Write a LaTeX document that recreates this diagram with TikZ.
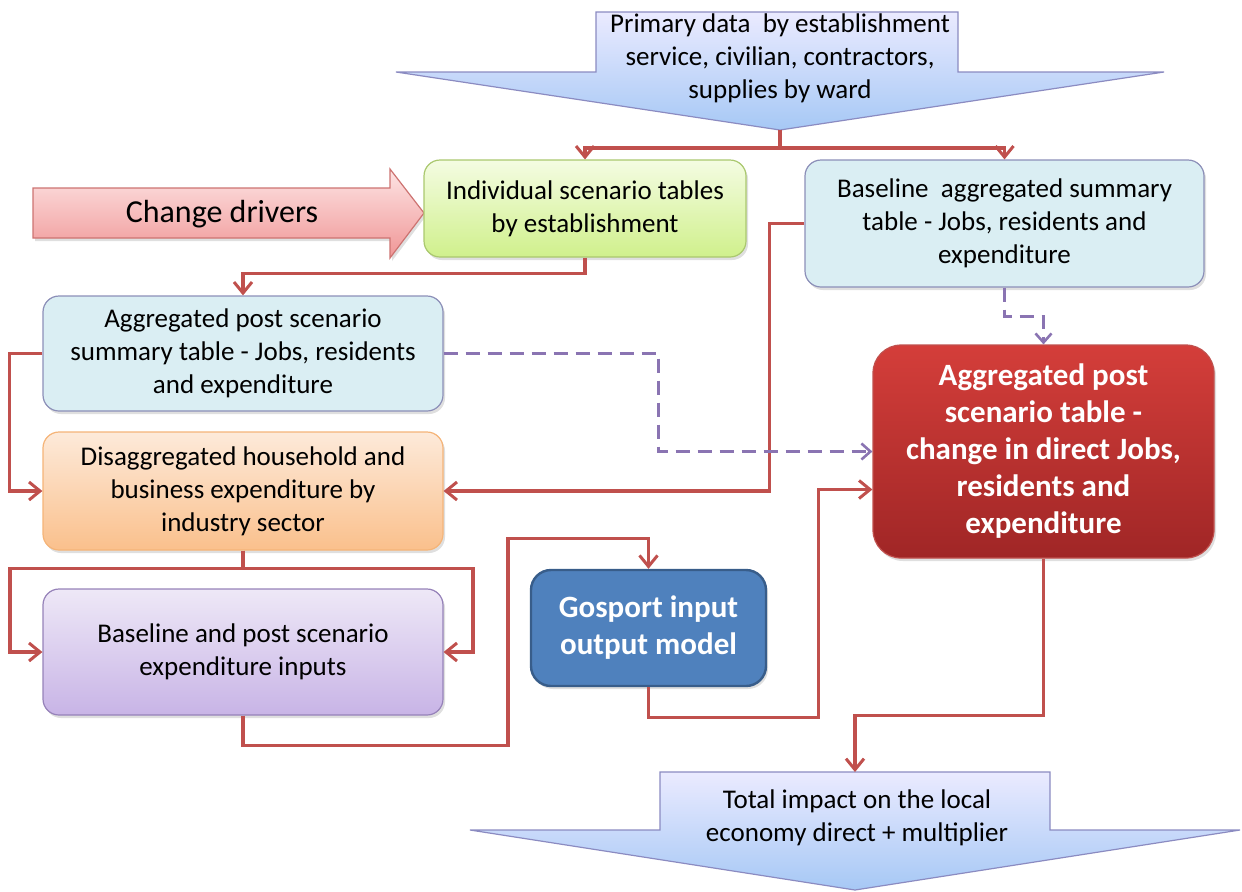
\documentclass[tikz,border=0pt]{standalone}
\usepackage{fontspec}
\setmainfont{Carlito}
\usetikzlibrary{arrows.meta,shadows}
\definecolor{lred}{HTML}{C0504D}
\definecolor{dpurple}{HTML}{8A74B2}
\definecolor{bluebox}{HTML}{DAEEF3}
\definecolor{blueborder}{HTML}{8C8FB8}
\begin{document}
\begin{tikzpicture}[x=0.5pt,y=-0.5pt,
  box/.style={draw=blueborder, line width=0.6pt, rounded corners=8pt, inner sep=0pt, align=center,
    font=\fontsize{13.5}{16.5}\selectfont,
    drop shadow={opacity=0.25, shadow xshift=1pt, shadow yshift=-1.5pt}},
  bluebx/.style={box, fill=bluebox},
  redline/.style={draw=lred, line width=1.7pt},
  conn/.style={redline, -{Straight Barb[length=5.5pt,width=9pt,line width=1.5pt]}},
  dconn/.style={draw=dpurple, line width=1.5pt, dash pattern=on 7pt off 4pt, -{Straight Barb[length=4.5pt,width=8pt,line width=1.3pt]}},
  bigarrow/.style={draw=blue!30!gray!70, line width=0.6pt, top color=blue!8!white, bottom color={rgb,255:red,166;green,200;blue,245}},
  txt/.style={align=center, font=\fontsize{13.5}{16.5}\selectfont, inner sep=0pt}
]
\useasboundingbox (0,0) rectangle (1242,891);

% top big arrow
\path[bigarrow] (596,12) -- (958,12) -- (958,72) -- (1164,72) -- (780,130) -- (396,72) -- (596,72) -- cycle;
\coordinate (ptip) at (780,130);
\node[txt] (primary) at (780,58) {Primary data\ \ by establishment\\service, civilian, contractors,\\supplies by ward};

% change drivers arrow
\path[draw=lred!80, line width=0.6pt, top color={rgb,255:red,253;green,228;blue,228}, bottom color={rgb,255:red,240;green,150;blue,150},
  drop shadow={opacity=0.25, shadow xshift=1pt, shadow yshift=-1.5pt}]
  (33,188) -- (390,188) -- (390,169) -- (424,213) -- (390,258) -- (390,238) -- (33,238) -- cycle;
\node[txt, font=\fontsize{16}{20}\selectfont] (cd) at (222,214) {Change drivers};

% boxes
\node[box, draw={rgb,255:red,170;green,200;blue,110}, top color={rgb,255:red,244;green,252;blue,226}, bottom color={rgb,255:red,208;green,240;blue,140},
  minimum width=161pt, minimum height=48.5pt] (ind) at (585,208.5) {Individual scenario tables\\by establishment};
\node[bluebx, minimum width=199.5pt, minimum height=63.5pt] (base) at (1004.5,223.5) {Baseline\ \ aggregated summary\\table - Jobs, residents and\\expenditure};
\node[bluebx, minimum width=200pt, minimum height=57.5pt] (aps) at (243,353.5) {Aggregated post scenario\\summary table - Jobs, residents\\and expenditure};
\node[box, draw={rgb,255:red,245;green,180;blue,120}, top color={rgb,255:red,253;green,234;blue,218}, bottom color={rgb,255:red,250;green,192;blue,140},
  minimum width=200pt, minimum height=59pt] (dis) at (243,491) {Disaggregated household and\\business expenditure by\\industry sector};
\node[box, draw={rgb,255:red,150;green,130;blue,185}, top color={rgb,255:red,238;green,232;blue,247}, bottom color={rgb,255:red,200;green,180;blue,230},
  minimum width=200pt, minimum height=63pt] (bpe) at (243,652) {Baseline and post scenario\\expenditure inputs};
\node[box, draw={rgb,255:red,56;green,93;blue,138}, line width=1.2pt, fill={rgb,255:red,79;green,129;blue,189}, rounded corners=10pt,
  text=white, font=\fontsize{15.5}{18.5}\selectfont\bfseries, minimum width=117.5pt, minimum height=58pt] (gos) at (648.5,628) {Gosport input\\output model};
\node[box, draw=lred, rounded corners=14pt, top color={rgb,255:red,212;green,62;blue,58}, bottom color={rgb,255:red,160;green,38;blue,38},
  text=white, font=\fontsize{15.5}{18.5}\selectfont\bfseries, minimum width=170.5pt, minimum height=106.5pt] (red) at (1043.5,451.5) {Aggregated post\\scenario table -\\change in direct Jobs,\\residents and\\expenditure};

% bottom big arrow
\path[bigarrow] (660,772) -- (1050,772) -- (1050,830) -- (1240,830) -- (855,890) -- (470,830) -- (660,830) -- cycle;
\coordinate (btop) at (855,772);
\node[txt] (total) at (857,818) {Total impact on the local\\economy direct + multiplier};

% connectors
\draw[conn] (ptip) -- ++(0,18) -| (ind.north);
\draw[conn] (ptip) -- ++(0,18) -| (base.north);
\draw[conn] (ind.south) -- ++(0,16) -| (aps.north);
\draw[conn] (aps.west) -- ++(-33,0) |- (dis.west);
\draw[conn] (base.west) -- ++(-35,0) |- (dis.east);
\draw[conn] (dis.south) -- ++(0,18) -- ++(-233,0) |- (bpe.west);
\draw[conn] (dis.south) -- ++(0,18) -- ++(230,0) |- (bpe.east);
\draw[conn] (bpe.south) -- ++(0,30) -- ++(265,0) -- ++(0,-207) -| (gos.north);
\draw[conn] (gos.south) -- ++(0,30) -- ++(170,0) |- ([yshift=-19pt]red.west);
\draw[dconn] (aps.east) -- ++(215,0) |- (red.west);
\draw[dconn] (base.south) -- ++(0,29) -| (red.north);
\draw[conn] (red.south) -- ++(0,157) -| (btop);
\end{tikzpicture}
\end{document}
